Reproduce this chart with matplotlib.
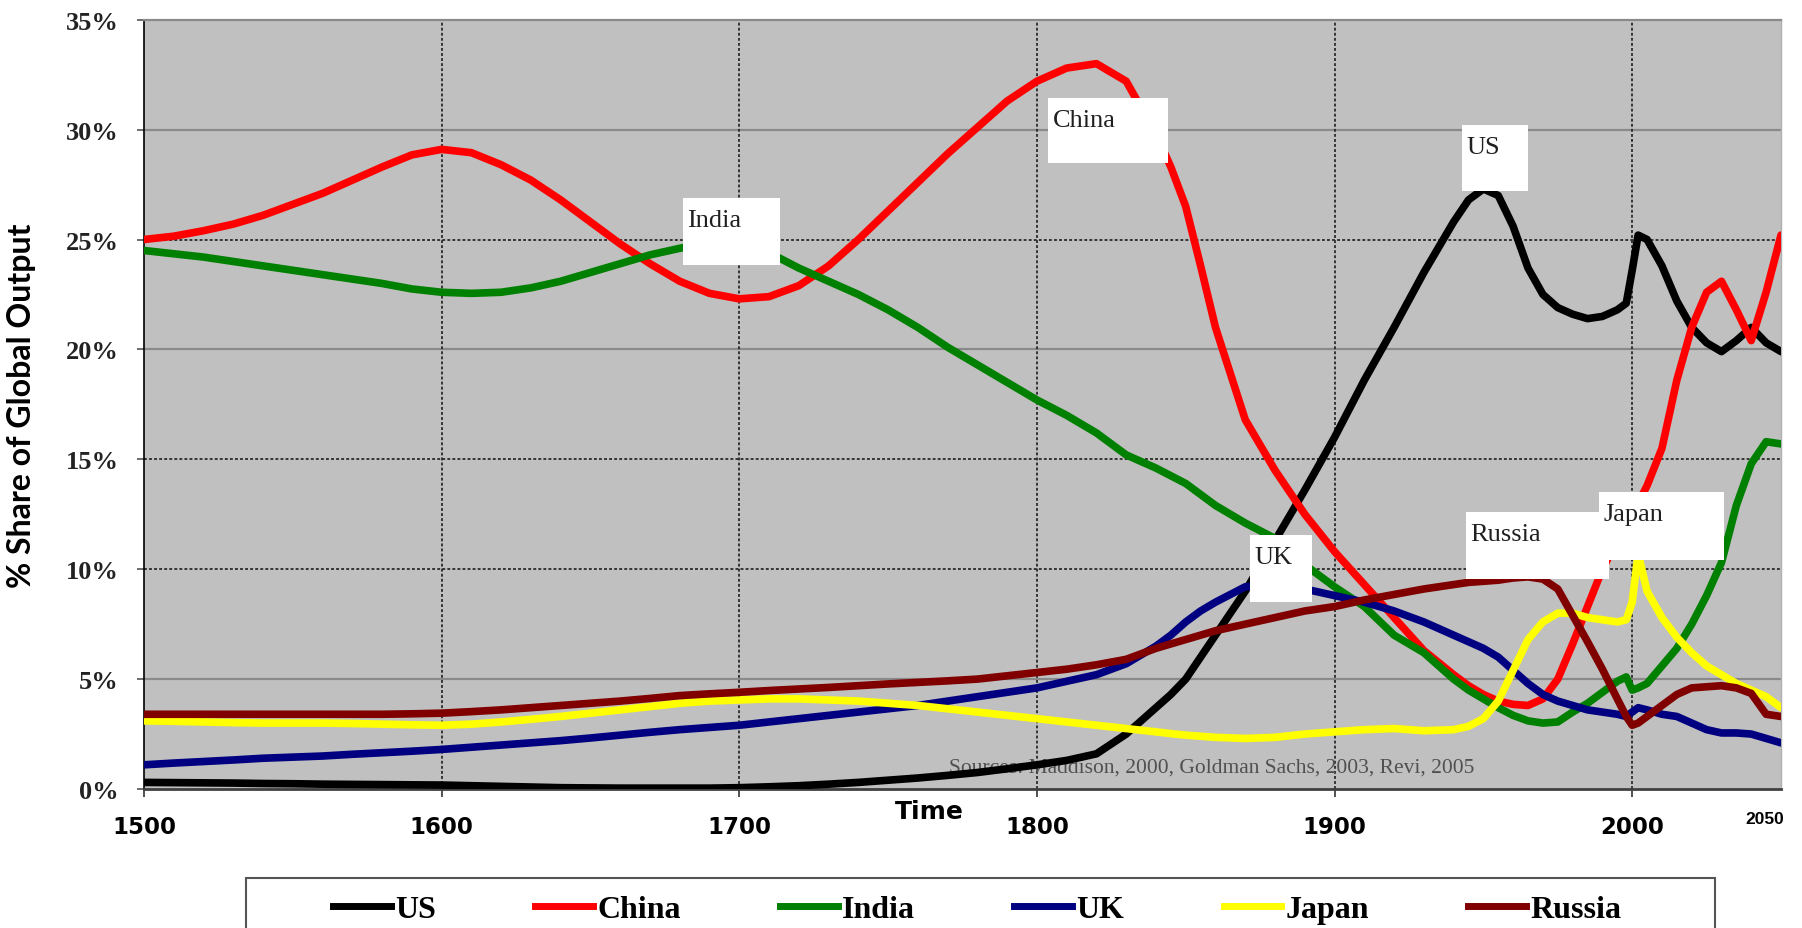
import matplotlib
matplotlib.use("Agg")
import matplotlib.pyplot as plt
from matplotlib.lines import Line2D
from matplotlib.patches import Rectangle

# share of global output (%), read per year
years = [1500, 1510, 1520, 1530, 1540, 1550, 1560, 1570, 1580, 1590,
         1600, 1610, 1620, 1630, 1640, 1650, 1660, 1670, 1680, 1690,
         1700, 1710, 1720, 1730, 1740, 1750, 1760, 1770, 1780, 1790,
         1800, 1810, 1820, 1830, 1840, 1845, 1850, 1855, 1860, 1870, 1880, 1890,
         1900, 1910, 1920, 1930, 1940, 1945, 1950,
         1955, 1960, 1965, 1970, 1975, 1980, 1985, 1990, 1995,
         1998, 2000, 2002, 2005,
         2010, 2015, 2020, 2025, 2030, 2035, 2040, 2045, 2050]

us = [0.3, 0.29, 0.28, 0.27, 0.25, 0.24, 0.22, 0.21, 0.2, 0.19,
      0.18, 0.15, 0.12, 0.09, 0.06, 0.05, 0.04, 0.04, 0.04, 0.04,
      0.06, 0.1, 0.15, 0.22, 0.3, 0.4, 0.5, 0.62, 0.75, 0.92,
      1.1, 1.3, 1.6, 2.5, 3.7, 4.3, 5.0, 6.0, 7.0, 9.0, 11.3, 13.6,
      16.0, 18.6, 21.0, 23.5, 25.8, 26.8, 27.3,
      27.0, 25.6, 23.7, 22.5, 21.9, 21.6, 21.4, 21.5, 21.8,
      22.1, 23.6, 25.2, 25.0,
      23.8, 22.2, 21.0, 20.3, 19.9, 20.4, 21.0, 20.3, 19.9]

china = [25.0, 25.15, 25.4, 25.7, 26.1, 26.6, 27.1, 27.7, 28.3, 28.85,
         29.1, 28.95, 28.4, 27.7, 26.8, 25.8, 24.8, 23.9, 23.1, 22.55,
         22.3, 22.4, 22.9, 23.8, 25.0, 26.3, 27.6, 28.9, 30.1, 31.3,
         32.2, 32.8, 33.0, 32.2, 29.8, 28.3, 26.5, 23.8, 21.0, 16.8, 14.5, 12.5,
         10.8, 9.3, 7.8, 6.3, 5.2, 4.7, 4.3,
         4.0, 3.85, 3.8, 4.1, 5.0, 6.6, 8.3, 10.0, 11.3,
         12.0, 12.5, 13.0, 13.8,
         15.5, 18.6, 21.0, 22.6, 23.1, 21.8, 20.4, 22.6, 25.2]

india = [24.5, 24.35, 24.2, 24.0, 23.8, 23.6, 23.4, 23.2, 23.0, 22.75,
         22.6, 22.55, 22.6, 22.8, 23.1, 23.5, 23.9, 24.3, 24.6, 24.85,
         25.0, 24.4, 23.7, 23.1, 22.5, 21.8, 21.0, 20.1, 19.3, 18.5,
         17.7, 17.0, 16.2, 15.2, 14.6, 14.25, 13.9, 13.4, 12.9, 12.1, 11.4, 10.2,
         9.2, 8.3, 7.0, 6.2, 5.0, 4.5, 4.1,
         3.7, 3.35, 3.1, 3.0, 3.05, 3.5, 3.9, 4.4, 4.9,
         5.1, 4.5, 4.6, 4.8,
         5.6, 6.4, 7.5, 8.8, 10.3, 12.9, 14.8, 15.8, 15.7]

uk = [1.1, 1.18, 1.25, 1.32, 1.4, 1.45, 1.5, 1.58, 1.65, 1.72,
      1.8, 1.9, 2.0, 2.1, 2.2, 2.32, 2.45, 2.58, 2.7, 2.8,
      2.9, 3.05, 3.2, 3.35, 3.5, 3.65, 3.8, 4.0, 4.2, 4.4,
      4.6, 4.9, 5.2, 5.7, 6.5, 7.0, 7.6, 8.1, 8.5, 9.2, 9.3, 9.1,
      8.8, 8.5, 8.1, 7.6, 7.0, 6.7, 6.4,
      6.0, 5.4, 4.8, 4.3, 4.0, 3.8, 3.6, 3.5, 3.4,
      3.3, 3.5, 3.7, 3.6,
      3.4, 3.3, 3.0, 2.7, 2.55, 2.55, 2.5, 2.3, 2.1]

japan = [3.1, 3.08, 3.05, 3.02, 3.0, 3.0, 3.0, 2.98, 2.95, 2.92,
         2.9, 2.95, 3.05, 3.17, 3.3, 3.45, 3.6, 3.75, 3.9, 4.0,
         4.05, 4.1, 4.1, 4.05, 4.0, 3.9, 3.8, 3.65, 3.5, 3.35,
         3.2, 3.05, 2.9, 2.75, 2.6, 2.52, 2.45, 2.4, 2.35, 2.3, 2.35, 2.5,
         2.6, 2.7, 2.75, 2.65, 2.7, 2.85, 3.2,
         4.0, 5.4, 6.8, 7.6, 8.0, 8.0, 7.8, 7.7, 7.6,
         7.7, 8.5, 10.7, 9.0,
         7.8, 6.9, 6.2, 5.6, 5.2, 4.8, 4.5, 4.2, 3.7]

russia = [3.4, 3.4, 3.4, 3.4, 3.4, 3.4, 3.4, 3.4, 3.4, 3.42,
          3.45, 3.52, 3.6, 3.7, 3.8, 3.9, 4.0, 4.12, 4.25, 4.33,
          4.4, 4.48, 4.55, 4.62, 4.7, 4.78, 4.85, 4.92, 5.0, 5.15,
          5.3, 5.45, 5.65, 5.9, 6.4, 6.6, 6.8, 7.0, 7.2, 7.5, 7.8, 8.1,
          8.3, 8.6, 8.85, 9.1, 9.3, 9.4, 9.45,
          9.5, 9.6, 9.65, 9.55, 9.1, 7.9, 6.7, 5.45, 4.1,
          3.3, 2.9, 3.0, 3.3,
          3.8, 4.3, 4.6, 4.65, 4.7, 4.6, 4.35, 3.4, 3.3]

names = ["US", "China", "India", "UK", "Japan", "Russia"]
values = [us, china, india, uk, japan, russia]
colors = ["#000000", "#ff0000", "#008000", "#000080", "#ffff00", "#800000"]

tick_years = [1500, 1600, 1700, 1800, 1900, 2000]
pct_ticks = [0, 5, 10, 15, 20, 25, 30, 35]

W, H = 1802, 929
fig = plt.figure(figsize=(W / 100, H / 100), dpi=100)
ax = fig.add_axes([144 / W, 1 - 790 / H, (1781 - 144) / W, (790 - 20.7) / H])
ax.set_facecolor("#c0c0c0")
ax.set_xlim(1500, 2050)
ax.set_ylim(0, 35)

# gridlines: some solid grey, some dotted dark
dotted = (0, (1.6, 1.2))
for lvl in [5, 20, 30]:
    ax.axhline(lvl, color="#8a8a8a", lw=1.6, zorder=1)
for lvl in [10, 15, 25]:
    ax.axhline(lvl, color="#2a2a2a", lw=1.3, ls=dotted, zorder=1)
for yr in tick_years[1:]:
    ax.axvline(yr, color="#2a2a2a", lw=1.3, ls=dotted, zorder=1)

ax.spines["top"].set_color("#8a8a8a")
ax.spines["top"].set_linewidth(1.6)
ax.spines["right"].set_color("#b0b0b0")
ax.spines["right"].set_linewidth(1.0)
ax.spines["left"].set_color("#000000")
ax.spines["left"].set_linewidth(1.2)
ax.spines["bottom"].set_color("#404040")
ax.spines["bottom"].set_linewidth(2.0)

ax.text(0.4918, 0.0286, "Sources: Maddison, 2000, Goldman Sachs, 2003, Revi, 2005",
        transform=ax.transAxes, family="Liberation Serif", size=15.5, color="#505050",
        va="center", ha="left", zorder=2)

for name, vals, c in zip(names, values, colors):
    ax.plot(years, vals, color=c, lw=5.5, solid_capstyle="round",
            solid_joinstyle="round", zorder=3)

# white name boxes: (label, x0, x1, y0, y1) in data units
boxes = [
    ("China", 1803.8, 1844.1, 28.5, 31.45),
    ("US", 1942.9, 1965.1, 27.2, 30.2),
    ("India", 1681.1, 1713.7, 23.86, 26.9),
    ("UK", 1871.6, 1892.5, 8.5, 11.55),
    ("Russia", 1944.2, 1992.3, 9.55, 12.6),
    ("Japan", 1988.9, 2030.9, 10.4, 13.5),
]
for label, x0, x1, y0, y1 in boxes:
    ax.add_patch(Rectangle((x0, y0), x1 - x0, y1 - y0, facecolor="white",
                           edgecolor="none", zorder=5))
    ax.annotate(label, xy=(x0, y1), xytext=(3, -8), textcoords="offset points",
                family="Liberation Serif", size=19, color="#202020",
                ha="left", va="top", zorder=6)

ax.set_yticks(pct_ticks)
ax.set_yticklabels([f"{v}%" for v in pct_ticks], family="Liberation Serif",
                   weight="bold", size=19, color="#222222")
ax.tick_params(axis="y", length=5, width=1.2, pad=13, color="#555555")
ax.set_xticks(tick_years)
ax.set_xticklabels([str(y) for y in tick_years], family="DejaVu Sans", weight="bold", size=16.5)
ax.tick_params(axis="x", length=6, width=1.2, pad=13, color="#333333")

ax.set_xlabel("Time", family="DejaVu Sans", weight="bold", size=18, va="center")
ax.xaxis.set_label_coords(0.48, -0.0286)
ax.set_ylabel("% Share of Global Output", family="Lato", weight="bold", size=23)
ax.yaxis.set_label_coords(-0.066, 0.5)

fig.text(1765 / W, 1 - 820 / H, "2050", family="Liberation Sans", weight="bold",
         size=12.5, ha="center", va="center")

# legend with an open-bottomed frame
fig.add_artist(Rectangle((246 / W, 1 - 945 / H), (1715 - 246) / W, (945 - 879) / H,
                         transform=fig.transFigure, facecolor="white",
                         edgecolor="#555555", lw=1.5, zorder=0))
handles = [Line2D([], [], color=c, lw=5) for c in colors]
fig.legend(handles, names, loc="center left", bbox_to_anchor=(333 / W, 1 - 910 / H),
           ncol=6, frameon=False, borderpad=0, borderaxespad=0,
           prop={"family": "Liberation Serif", "weight": "bold", "size": 23},
           handlelength=1.8, handletextpad=0.15, columnspacing=3.1)

fig.savefig("out.png", dpi=100, facecolor="white")
